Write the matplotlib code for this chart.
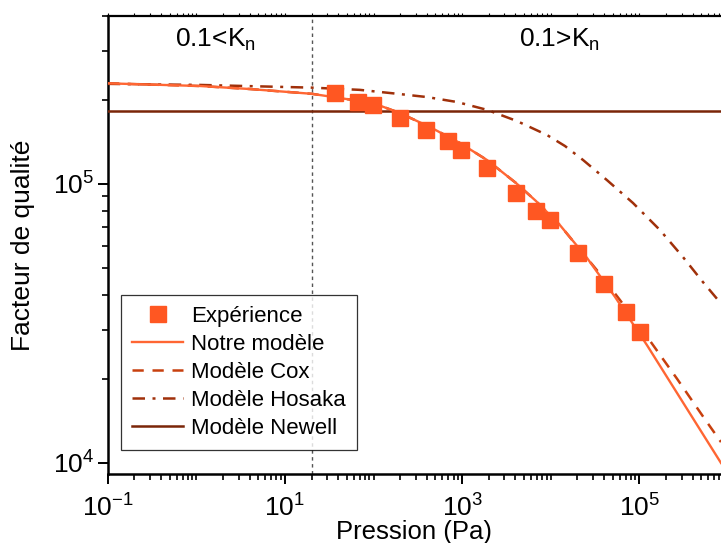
import math
import matplotlib
matplotlib.use("Agg")
import matplotlib.pyplot as plt
from matplotlib.ticker import LogLocator, FixedLocator, NullFormatter, FuncFormatter

plt.rcParams['font.family'] = ['Liberation Sans', 'DejaVu Sans']
plt.rcParams['mathtext.fontset'] = 'custom'
plt.rcParams['mathtext.rm'] = 'Liberation Sans'
plt.rcParams['mathtext.it'] = 'Liberation Sans'

# Experimental data
exp_p = [37, 67, 99, 200, 390, 690, 960, 1930, 4060, 6870, 9820, 20200, 40300, 71300, 102000]
exp_q = [2.11e5, 1.96e5, 1.92e5, 1.72e5, 1.56e5, 1.42e5, 1.32e5, 1.14e5, 9.3e4, 8.0e4,
         7.4e4, 5.63e4, 4.36e4, 3.47e4, 2.95e4]

# Notre modèle
notre_p = [0.1, 1.1, 4.0, 20.2, 99, 198, 435, 946, 1910, 4060, 6820, 12700, 25700, 53200, 122000, 836000]
notre_q = [2.29e5, 2.24e5, 2.185e5, 2.10e5, 1.946e5, 1.792e5, 1.596e5, 1.399e5, 1.216e5, 1.006e5,
           8.67e4, 7.11e4, 5.42e4, 3.93e4, 2.64e4, 9.98e3]

# Modèle Cox
cox_p = [0.1, 1.1, 4.0, 20.2, 99, 198, 435, 946, 1910, 4060, 6820, 12700, 36000, 60500, 125300, 266600, 552000, 836000]
cox_q = [2.29e5, 2.24e5, 2.185e5, 2.10e5, 1.946e5, 1.792e5, 1.596e5, 1.399e5, 1.216e5, 1.006e5,
         8.67e4, 7.11e4, 4.75e4, 3.83e4, 2.80e4, 2.00e4, 1.43e4, 1.186e4]

# Modèle Hosaka
hosaka_p = [0.1, 1.1, 20.2, 70, 175, 400, 875, 1910, 4170, 9080, 14500, 23200, 43200, 84900,
            171300, 311200, 523500, 836000]
hosaka_q = [2.28e5, 2.26e5, 2.21e5, 2.17e5, 2.105e5, 2.045e5, 1.963e5, 1.84e5, 1.677e5, 1.495e5,
            1.365e5, 1.216e5, 1.03e5, 8.53e4, 6.82e4, 5.46e4, 4.44e4, 3.72e4]

# Modèle Newell
newell_p = [0.1, 836000]
newell_q = [1.83e5, 1.83e5]

kn_limit = 20.0

c_exp = '#FF5722'
c_notre = '#FF6633'
c_cox = '#C8400E'
c_hos = '#A0300A'
c_new = '#7A2508'

fig = plt.figure(figsize=(7.21, 5.43), dpi=100)
ax = fig.add_axes([0.1494, 0.127, 1.0 - 0.1494, 0.844])

ax.plot(exp_p, exp_q, linestyle='none', marker='s', ms=11, color=c_exp, label='Expérience', zorder=5)
ax.plot(notre_p, notre_q, '-', color=c_notre, lw=1.7, label='Notre modèle', zorder=4)
ax.plot(cox_p, cox_q, linestyle=(0, (4.5, 3.5)), color=c_cox, lw=1.8, label='Modèle Cox', zorder=3)
ax.plot(hosaka_p, hosaka_q, linestyle=(0, (5, 3, 1.2, 3)), color=c_hos, lw=1.8, label='Modèle Hosaka', zorder=3)
ax.plot(newell_p, newell_q, '-', color=c_new, lw=1.8, label='Modèle Newell', zorder=3)

ax.axvline(kn_limit, color='#555555', lw=1.0, linestyle=(0, (2.5, 2.5)), zorder=1)

ax.set_xscale('log')
ax.set_yscale('log')
ax.set_xlim(0.1, 8.36e5)
ax.set_ylim(9110, 4.0e5)

fmt = FuncFormatter(lambda v, p: r'$\mathregular{10^{%d}}$' % round(math.log10(v)))
ax.xaxis.set_major_locator(FixedLocator([1e-1, 1e1, 1e3, 1e5]))
ax.xaxis.set_minor_locator(LogLocator(base=10, subs=[1, 2, 3, 4, 5, 6, 7, 8, 9], numticks=30))
ax.xaxis.set_major_formatter(fmt)
ax.xaxis.set_minor_formatter(NullFormatter())

ax.yaxis.set_major_locator(FixedLocator([1e4, 1e5]))
ax.yaxis.set_minor_locator(LogLocator(base=10, subs=[2, 3, 4, 5, 6, 7, 8, 9], numticks=30))
ax.yaxis.set_major_formatter(fmt)
ax.yaxis.set_minor_formatter(NullFormatter())

ax.tick_params(axis='both', which='major', direction='out', length=7.5, width=1.4, labelsize=19, colors='black')
ax.tick_params(axis='both', which='minor', direction='out', length=4.0, width=1.2)
ax.tick_params(axis='x', which='both', top=True)
ax.tick_params(axis='x', which='major', pad=7)
ax.tick_params(axis='y', which='major', pad=2)
for t in ax.xaxis.get_major_ticks() + ax.xaxis.get_minor_ticks():
    t.tick2line.set_markersize(2)
    t.tick2line.set_markeredgewidth(0.8)

ax.spines['right'].set_visible(False)
for s in ['left', 'bottom']:
    ax.spines[s].set_linewidth(1.8)
ax.spines['top'].set_linewidth(1.6)

ax.set_xlabel('Pression (Pa)', fontsize=18.5, labelpad=-1)
ax.set_ylabel('Facteur de qualité', fontsize=19, labelpad=13)

ax.text(0.176, 0.947, r'0.1<K$_\mathregular{n}$', transform=ax.transAxes, fontsize=19, ha='center', va='center')
ax.text(0.736, 0.947, r'0.1>K$_\mathregular{n}$', transform=ax.transAxes, fontsize=19, ha='center', va='center')

leg = ax.legend(loc='lower left', bbox_to_anchor=(0.022, 0.052), fontsize=16, frameon=True,
                fancybox=False, edgecolor='black', handlelength=2.3, labelspacing=0.32,
                borderpad=0.5, handletextpad=0.35, borderaxespad=0)
leg.get_frame().set_linewidth(0.9)

fig.savefig('out.png', dpi=100)
